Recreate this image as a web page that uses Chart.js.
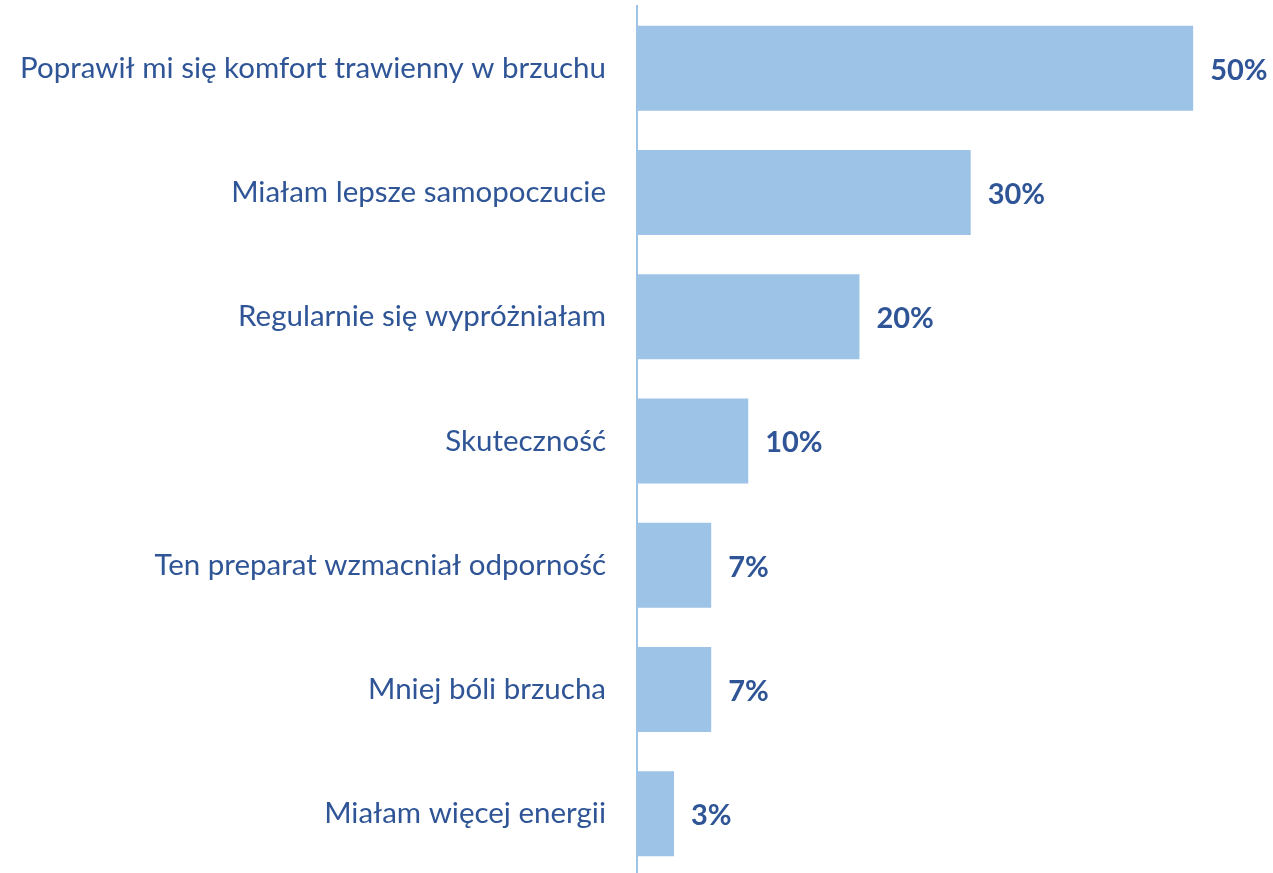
<!DOCTYPE html>
<html>
<head>
<meta charset="utf-8">
<script src="https://cdn.jsdelivr.net/npm/chart.js@4"></script>
<style>
  html, body { margin: 0; padding: 0; background: #fff; overflow: hidden; }
  #wrap { width: 1273px; height: 876px; }
</style>
</head>
<body>
<div id="wrap"><canvas id="barChart"></canvas></div>
<script>
const categories = [
    "Poprawił mi się komfort trawienny w brzuchu",
    "Miałam lepsze samopoczucie",
    "Regularnie się wypróżniałam",
    "Skuteczność",
    "Ten preparat wzmacniał odporność",
    "Mniej bóli brzucha",
    "Miałam więcej energii"
]
const values = [50, 30, 20, 10, 6.67, 6.67, 3.33]
const valueLabels = ["50%", "30%", "20%", "10%", "7%", "7%", "3%"]

const textColor = "#2F5597"
const barColor = "#9DC3E6"
const fontFamily = "Lato, 'Open Sans', sans-serif"

// labels at the end of each bar
const barLabels = {
    id: 'barLabels',
    afterDatasetsDraw(chart) {
        const ctx = chart.ctx
        const meta = chart.getDatasetMeta(0)
        ctx.save()
        ctx.fillStyle = textColor
        ctx.font = `bold 29px ${fontFamily}`
        ctx.textBaseline = 'middle'
        ctx.textAlign = 'left'
        meta.data.forEach((bar, i) => {
            ctx.fillText(valueLabels[i], bar.x + 17, bar.y + 2)
        })
        ctx.restore()
    }
}

const ctxEl = document.getElementById("barChart")

new Chart(ctxEl, {
    type: 'bar',
    data: {
        labels: categories,
        datasets: [{
            data: values,
            backgroundColor: barColor,
            borderWidth: 0,
            categoryPercentage: 0.684,
            barPercentage: 1
        }]
    },
    options: {
        indexAxis: 'y',
        responsive: true,
        maintainAspectRatio: false,
        animation: false,
        layout: { padding: { top: 6, bottom: 0, left: 0, right: 2 } },
        plugins: {
            legend: { display: false },
            tooltip: { enabled: false }
        },
        scales: {
            x: {
                display: false,
                min: 0,
                max: 57
            },
            y: {
                afterFit(scale) {
                    scale.width = 637
                    scale.paddingTop = 0
                    scale.paddingBottom = 0
                },
                grid: { display: false, drawTicks: false },
                border: { display: true, color: barColor, width: 2 },
                ticks: {
                    color: textColor,
                    padding: 31,
                    font: { family: fontFamily, size: 29.5 }
                }
            }
        }
    },
    plugins: [barLabels]
})
</script>
</body>
</html>
